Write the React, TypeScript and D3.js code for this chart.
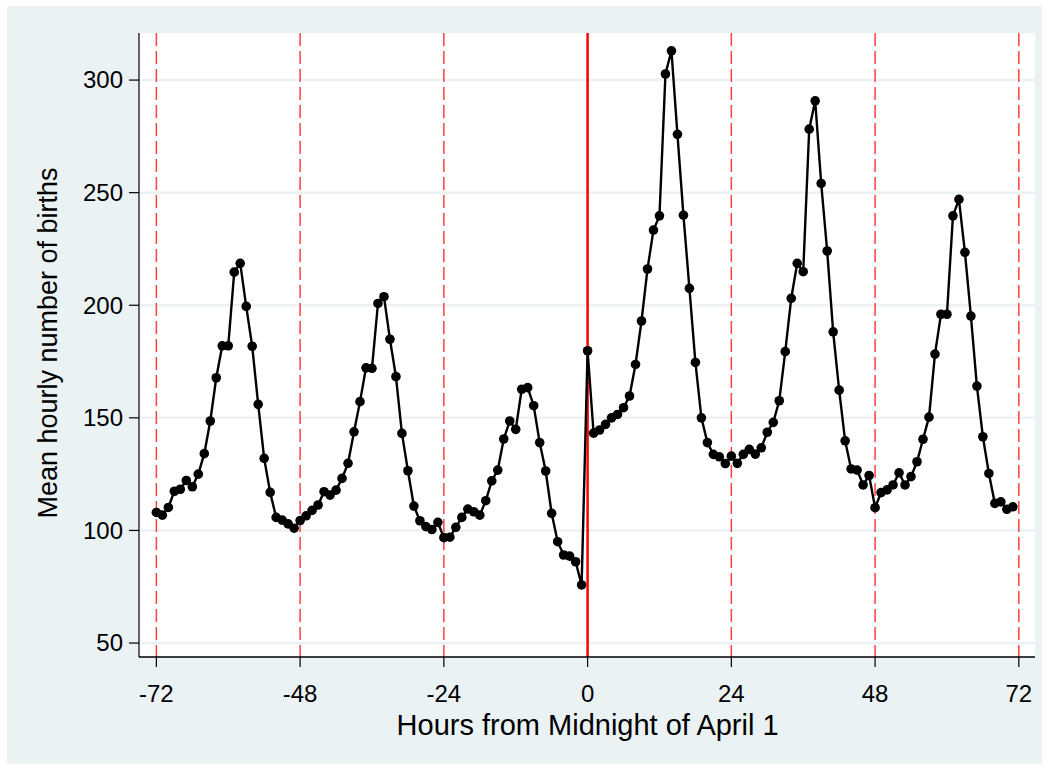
import React from 'react';
import * as d3 from 'd3';

// hours relative to midnight of April 1
const hours: number[] = d3.range(-72, 72);

// mean hourly number of births
const births: number[] = [
  108, 106.8, 110.2, 117.4, 118.3, 122.2, 119.4, 125, 134.1, 148.6, 167.8, 182,
  182, 214.7, 218.6, 199.5, 181.8, 156, 132, 116.9, 105.8, 104.6, 102.9, 101,
  104.4, 106.5, 108.9, 111.3, 117.2, 115.7, 117.9, 123.1, 129.8, 143.8, 157.2, 172.2,
  172, 200.8, 203.8, 184.9, 168.3, 143.1, 126.5, 110.8, 104.3, 101.7, 100.4, 103.6,
  96.8, 97, 101.4, 105.8, 109.5, 108.3, 106.8, 113.2, 122, 126.8, 140.6, 148.6,
  144.9, 162.7, 163.4, 155.4, 139, 126.4, 107.6, 95, 89.1, 88.6, 86.1, 75.8,
  179.8, 143.2, 144.6, 147.1, 150, 151.5, 154.5, 159.7, 173.7, 193, 216.1, 233.4,
  239.7, 302.7, 313, 275.9, 240, 207.5, 174.6, 150, 139, 133.8, 132.7, 129.7,
  133, 129.8, 133.8, 136, 133.9, 136.7, 143.6, 148, 157.6, 179.4, 203.1, 218.6,
  214.9, 278.2, 290.8, 254.1, 224.1, 188.2, 162.3, 139.8, 127.3, 126.8, 120.2, 124.4,
  110.1, 116.8, 118, 120.2, 125.6, 120.2, 123.9, 130.5, 140.5, 150.3, 178.3, 196,
  196, 239.7, 247, 223.5, 195.2, 164.1, 141.6, 125.3, 112, 112.7, 109.4, 110.5,
];

const xTicks: number[] = [-72, -48, -24, 0, 24, 48, 72];
const yTicks: number[] = [50, 100, 150, 200, 250, 300];
const dayLines: number[] = [-72, -48, -24, 24, 48, 72];

const W = 1049;
const H = 770;
const plot = { left: 139, right: 1035, top: 33, bottom: 657 };
const font = "'Liberation Sans', Arial, Helvetica, sans-serif";

export default function App() {
  const x = d3.scaleLinear().domain([-74.9, 74.7]).range([plot.left, plot.right]);
  const y = d3.scaleLinear().domain([43.8, 320.9]).range([plot.bottom, plot.top]);

  const pts = hours.map((h, i) => ({ h, v: births[i] }));
  const line = d3.line<{ h: number; v: number }>()
    .x(d => x(d.h))
    .y(d => y(d.v));

  return (
    <svg width={W} height={H} style={{ position: 'absolute', left: 0, top: 0 }}>
      <rect x={0} y={0} width={W} height={H} fill="#ffffff" />
      <rect x={7} y={6} width={1035} height={758} fill="#eaf2f3" />
      <rect x={plot.left} y={plot.top} width={plot.right - plot.left} height={plot.bottom - plot.top} fill="#ffffff" />

      {/* grid */}
      {yTicks.map(t => (
        <line key={'g' + t} x1={plot.left} x2={plot.right} y1={y(t)} y2={y(t)} stroke="#eaf2f3" strokeWidth={2.5} />
      ))}

      {/* day boundaries */}
      {dayLines.map(d => (
        <line key={'d' + d} x1={x(d)} x2={x(d)} y1={plot.top} y2={plot.bottom}
          stroke="#ff4040" strokeWidth={1.5} strokeDasharray="13,5" />
      ))}
      <line x1={x(0)} x2={x(0)} y1={plot.top} y2={plot.bottom} stroke="#ff0000" strokeWidth={2.5} />

      {/* series */}
      <path d={line(pts) || ''} fill="none" stroke="#000" strokeWidth={2.4} />
      {pts.map(p => (
        <circle key={'p' + p.h} cx={x(p.h)} cy={y(p.v)} r={4.8} fill="#000" />
      ))}

      {/* axes */}
      <line x1={plot.left} x2={plot.left} y1={plot.top} y2={plot.bottom} stroke="#000" strokeWidth={1.2} />
      <line x1={plot.left} x2={plot.right} y1={plot.bottom} y2={plot.bottom} stroke="#000" strokeWidth={1.5} />
      {yTicks.map(t => (
        <g key={'y' + t}>
          <line x1={plot.left - 10} x2={plot.left} y1={y(t)} y2={y(t)} stroke="#000" strokeWidth={1.2} />
          <text x={plot.left - 16} y={y(t)} dy="0.35em" textAnchor="end" fontFamily={font} fontSize={24}>{t}</text>
        </g>
      ))}
      {xTicks.map(t => (
        <g key={'x' + t}>
          <line x1={x(t)} x2={x(t)} y1={plot.bottom} y2={plot.bottom + 10} stroke="#000" strokeWidth={1.2} />
          <text x={x(t)} y={plot.bottom + 45} textAnchor="middle" fontFamily={font} fontSize={24}>{t}</text>
        </g>
      ))}

      <text x={(x(-72) + x(72)) / 2} y={735} textAnchor="middle" fontFamily={font} fontSize={29}>
        Hours from Midnight of April 1
      </text>
      <text transform={`translate(57,${(plot.top + plot.bottom) / 2 - 2}) rotate(-90)`} textAnchor="middle" fontFamily={font} fontSize={27}>
        Mean hourly number of births
      </text>
    </svg>
  );
}
